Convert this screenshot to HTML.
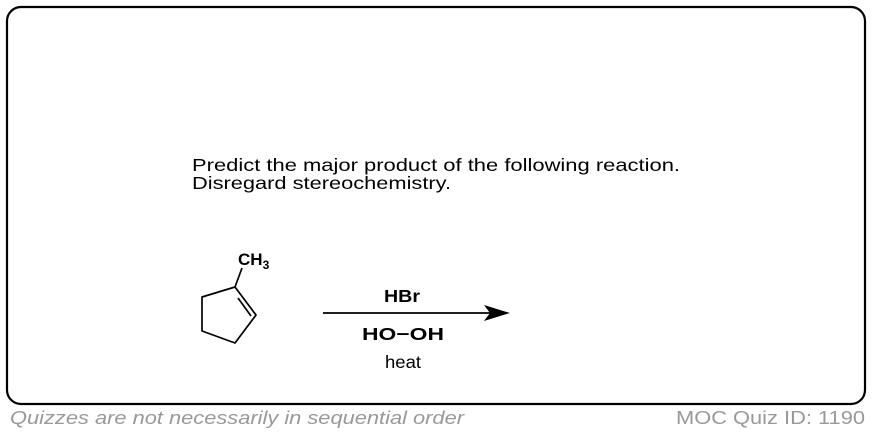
<!DOCTYPE html>
<html><head><meta charset="utf-8"><style>html,body{margin:0;padding:0;background:#fff;}svg{display:block}</style></head>
<body>
<svg width="872" height="434" viewBox="0 0 872 434" xmlns="http://www.w3.org/2000/svg" font-family="Liberation Sans, Arial, sans-serif">
<rect x="7" y="7" width="858" height="397" rx="14" ry="14" fill="#fff" stroke="#000" stroke-width="2.2"/>
<text x="192" y="171" font-size="17.5" fill="#000" textLength="488" lengthAdjust="spacingAndGlyphs">Predict the major product of the following reaction.</text>
<text x="192" y="189" font-size="17.5" fill="#000" textLength="259" lengthAdjust="spacingAndGlyphs">Disregard stereochemistry.</text>
<g stroke="#000" stroke-width="1.7" fill="none" stroke-linejoin="round">
<polygon points="235,287 256,315 235,343 202,331 202,297"/>
<line x1="238" y1="298" x2="251" y2="316"/>
<line x1="235" y1="287" x2="242" y2="268"/>
<line x1="323" y1="313" x2="490" y2="313"/>
</g>
<polygon points="510,313 484,305 490,313 484,321" fill="#000"/>
<text x="238" y="265" font-size="17" font-weight="bold">CH<tspan font-size="12" dy="4">3</tspan></text>
<text x="384" y="302" font-size="17.5" font-weight="bold" textLength="36" lengthAdjust="spacingAndGlyphs">HBr</text>
<text x="362" y="340" font-size="17.5" font-weight="bold" textLength="82" lengthAdjust="spacingAndGlyphs">HO−OH</text>
<text x="385" y="368" font-size="17.5" textLength="36" lengthAdjust="spacingAndGlyphs">heat</text>
<text x="10" y="424" font-size="18.5" font-style="italic" fill="#999" textLength="454" lengthAdjust="spacingAndGlyphs">Quizzes are not necessarily in sequential order</text>
<text x="676" y="424" font-size="18.5" fill="#999" textLength="189" lengthAdjust="spacingAndGlyphs">MOC Quiz ID: 1190</text>
</svg>
</body></html>
